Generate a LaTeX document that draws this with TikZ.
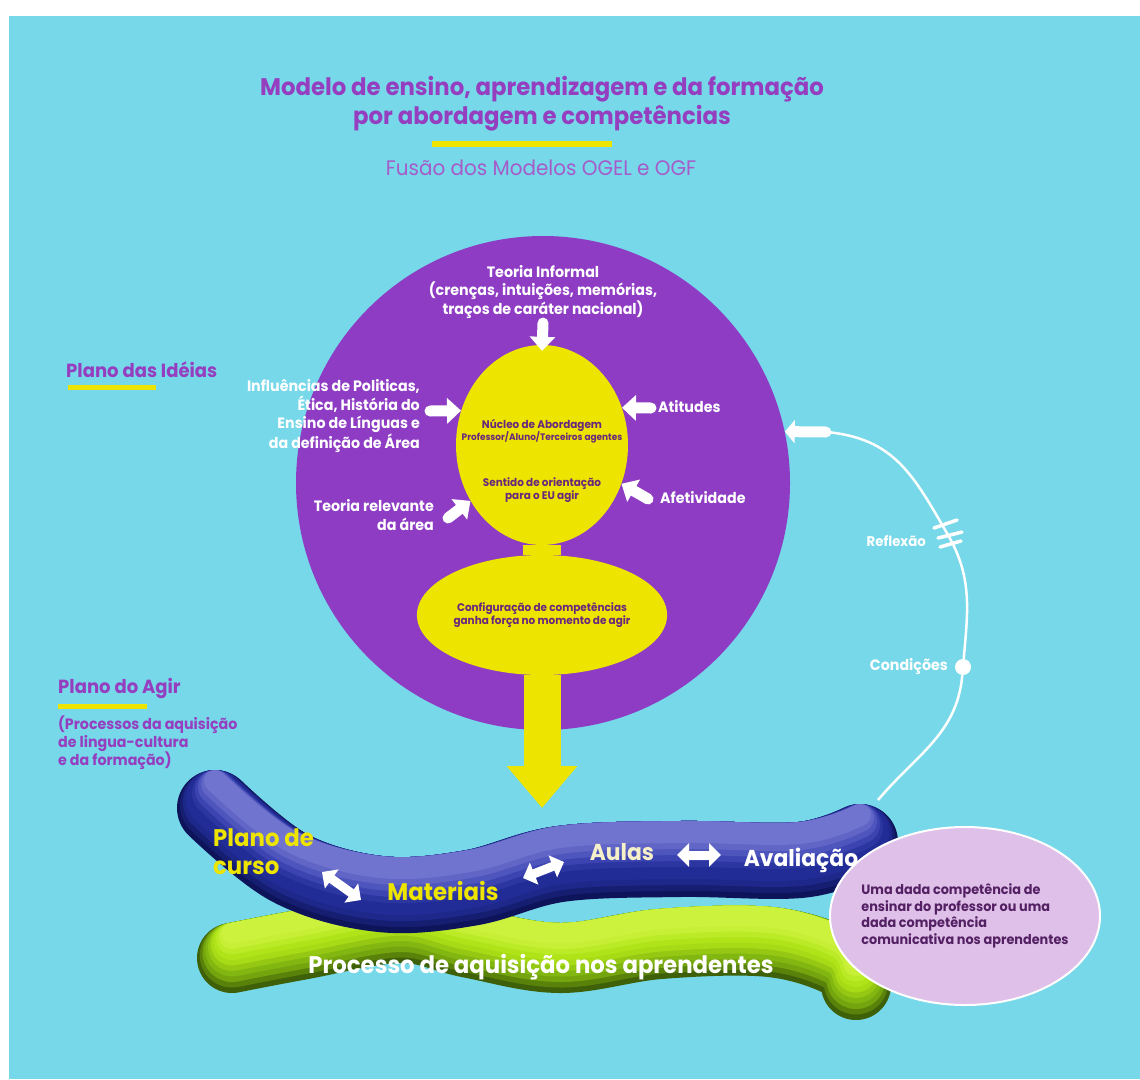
\documentclass[tikz,border=0pt]{standalone}
\usepackage{fontspec}
\setmainfont{Poppins}[FakeStretch=0.95]
\usetikzlibrary{arrows.meta, shapes.geometric, positioning}

\definecolor{fundo}{RGB}{118,216,232}
\definecolor{roxo}{RGB}{142,60,196}
\definecolor{roxoT}{RGB}{150,62,192}
\definecolor{roxoE}{RGB}{105,40,125}
\definecolor{amarelo}{RGB}{237,228,0}
\definecolor{azulA}{RGB}{14,20,90}
\definecolor{azulB}{RGB}{34,44,150}
\definecolor{azulC}{RGB}{60,68,178}
\definecolor{azulD}{RGB}{112,116,206}
\definecolor{verdeA}{RGB}{62,96,8}
\definecolor{verdeB}{RGB}{130,182,16}
\definecolor{verdeC}{RGB}{176,228,24}
\definecolor{verdeD}{RGB}{204,242,62}
\definecolor{lilas}{RGB}{222,192,232}
\definecolor{creme}{RGB}{246,240,200}

\newcommand\fsz[2]{\fontsize{#1}{#2}\selectfont}

\tikzset{
  wtxt/.style={text=white, font=\bfseries\fsz{15}{18.5}, inner sep=0pt},
  ptxt/.style={text=roxoT, font=\bfseries, inner sep=0pt, align=left},
  ntxt/.style={text=roxoE, font=\bfseries\fsz{11}{12.5}, inner sep=0pt, align=center},
  warrow/.style={draw=white, line width=11pt, line cap=round, -{Triangle[width=25pt,length=14pt]}},
  dblarrow/.style={draw=white, line width=9pt, {Triangle[width=23pt,length=12pt]}-{Triangle[width=23pt,length=12pt]}},
  traco/.style={draw=amarelo, line width=5pt},
  bandlbl/.style={font=\bfseries\fsz{24}{28}, inner sep=0pt, align=left}
}

\begin{document}
\begin{tikzpicture}[x=1pt, y=-1pt]
  \useasboundingbox (0,0) rectangle (1140,1079);
  \fill[white] (0,0) rectangle (1140,1079);
  \fill[fundo] (9,16) rectangle (1140,1079);

  % bands
  \foreach \i/\c in {0/verdeA, 1/verdeB!40!verdeA, 2/verdeB!80!verdeA, 3/verdeB, 4/verdeC!40!verdeB,
                     5/verdeC!80!verdeB, 6/verdeC, 7/verdeD!40!verdeC, 8/verdeD!80!verdeC, 9/verdeD}{
    \pgfmathsetmacro\w{70-5.5*\i}
    \pgfmathsetmacro\s{2.75*\i}
    \draw[line width=\w pt, line cap=round, \c, transform canvas={yshift=\s pt}]
      plot[smooth, tension=.6] coordinates {(232,958) (300,945) (400,928) (470,943) (560,958) (660,944) (770,942) (840,962) (856,985)};
  }
  \foreach \i/\c in {0/azulA, 1/azulB!40!azulA, 2/azulB!80!azulA, 3/azulB, 4/azulB, 5/azulC!40!azulB,
                     6/azulC, 7/azulD!35!azulC, 8/azulD!70!azulC, 9/azulD}{
    \pgfmathsetmacro\w{76-6*\i}
    \pgfmathsetmacro\s{3*\i}
    \draw[line width=\w pt, line cap=round, \c, transform canvas={yshift=\s pt}]
      plot[smooth, tension=.6] coordinates {(215,808) (290,868) (380,894) (470,888) (560,864) (680,859) (800,860) (860,842)};
  }

  \node[text=roxoT, font=\bfseries\fsz{24}{29}, align=center, inner sep=0pt] (titulo) at (542,104)
    {Modelo de ensino, aprendizagem e da formação\\por abordagem e competências};
  \draw[traco, line width=6pt] (432,144) -- (612,144);
  \node[text=roxoT!85!white, font=\fsz{21}{24}, inner sep=0pt] (subtitulo) at (541,168) {Fusão dos Modelos OGEL e OGF};

  \node[ptxt, font=\bfseries\fsz{19}{22}, anchor=west] (ideias) at (66,370) {Plano das Idéias};
  \draw[traco] (68,387) -- (156,387);
  \node[ptxt, font=\bfseries\fsz{19}{22}, anchor=west] (agir) at (58,688) {Plano do Agir};
  \draw[traco] (58,706) -- (147,706);
  \node[ptxt, font=\bfseries\fsz{15}{18}, anchor=north west] (processos) at (58,716)
    {(Processos da aquisição\\de lingua-cultura\\e da formação)};

  % circle of ideas
  \node[circle, fill=roxo, minimum size=494pt, inner sep=0pt] (plano) at (543,483) {};
  \node[ellipse, fill=amarelo, minimum width=172pt, minimum height=200pt, inner sep=0pt] (nucleo) at (542,445) {};
  \node[ellipse, fill=amarelo, minimum width=224pt, minimum height=120pt, inner sep=0pt, ntxt] (config) at (542,615)
    {Configuração de competências\\ganha força no momento de agir};
  \draw[amarelo, line width=38pt] (nucleo.south) -- (config.north);
  \coordinate (ponta) at (542,808);
  \draw[amarelo, line width=37pt, -{Triangle[width=68pt,length=42pt]}] (config.south) -- (ponta);

  \node[ntxt] (abordagem) at (542,431) {Núcleo de Abordagem\\{\fsz{9.4}{10}Professor/Aluno/Terceiros agentes}};
  \node[ntxt] (sentido) at (542,490) {Sentido de orientação\\para o EU agir};

  \node[wtxt, align=center] (teoria) at (543,292) {Teoria Informal\\(crenças, intuições, memórias,\\traços de caráter nacional)};
  \node[wtxt, align=right, anchor=east] (influencias) at (420,416)
    {Influências de Politicas,\\Ética, História do\\Ensino de Línguas e\\da definição de Área};
  \node[wtxt, anchor=west] (atitudes) at (658,407) {Atitudes};
  \node[wtxt, anchor=west] (afetividade) at (660,498) {Afetividade};
  \node[wtxt, align=right, anchor=east] (relevante) at (434,515) {Teoria relevante\\da área};

  \coordinate (tTop) at (543,323);
  \coordinate (tInf) at (430,411);
  \coordinate (tAti) at (651,408);
  \coordinate (tAfe) at (648,499);
  \coordinate (tRel) at (448,518);
  \draw[warrow] (tTop) -- ([yshift=-6pt]nucleo.north);
  \draw[warrow] (tInf) -- (nucleo.157);
  \draw[warrow] (tAti) -- (nucleo.25);
  \draw[warrow] (tAfe) -- (nucleo.-26);
  \draw[warrow] (tRel) -- (nucleo.-142);

  % feedback line
  \coordinate (fb) at (826,432);
  \coordinate (refl) at (948,535);
  \coordinate (bandtop) at (878,800);
  \node[circle, fill=white, minimum size=16pt, inner sep=0pt] (cond) at (963,667) {};
  \draw[white, line width=2.5pt] (fb) to[out=-5, in=120, looseness=1.1] (refl) to[out=-60, in=85] (cond) to[out=-95, in=50] (bandtop);
  \draw[draw=white, line width=11pt, line cap=round, -{Triangle[width=23pt,length=10pt]}] (fb) -- (plano.12);
  \draw[white, line width=3.5pt, line cap=round]
    ([shift={(-14,-7)}]refl) -- ++(23,-8)
    ([shift={(-10,3)}]refl) -- ++(24,-6)
    ([shift={(-8,12)}]refl) -- ++(21,-6);
  \node[wtxt, font=\bfseries\fsz{14}{18}, anchor=east] (reflexao) at (926,541) {Reflexão};
  \node[wtxt, anchor=east] (condicoes) at (948,667) {Condições};

  % competence ellipse
  \node[ellipse, fill=lilas, draw=white, line width=2pt, minimum width=270pt, minimum height=178pt, inner sep=0pt] (competencia) at (965,916) {};
  \node[text=roxoE!80!black, font=\bfseries\fsz{13.5}{16.5}, align=left, inner sep=0pt] (competenciatxt) at (competencia.center)
    {Uma dada competência de\\ensinar do professor ou uma\\dada competência\\comunicativa nos aprendentes};

  % labels on the bands
  \node[bandlbl, text=amarelo, anchor=west] (curso) at (213,852) {Plano de\\curso};
  \node[bandlbl, text=amarelo] (materiais) at (443,891) {Materiais};
  \node[bandlbl, text=creme, font=\bfseries\fsz{23}{28}] (aulas) at (622,852) {Aulas};
  \node[bandlbl, text=white, font=\bfseries\fsz{23}{28}] (avaliacao) at (801,860) {Avaliação};
  \node[bandlbl, text=white] (processo) at (541,967) {Processo de aquisição nos aprendentes};

  \coordinate (d1a) at (322,872);
  \coordinate (d1b) at (361,900);
  \coordinate (d2a) at (523,878);
  \coordinate (d2b) at (564,862);
  \coordinate (d3a) at (677,855);
  \coordinate (d3b) at (721,855);
  \draw[dblarrow] (d1a) -- (d1b);
  \draw[dblarrow] (d2a) -- (d2b);
  \draw[dblarrow] (d3a) -- (d3b);
\end{tikzpicture}
\end{document}
